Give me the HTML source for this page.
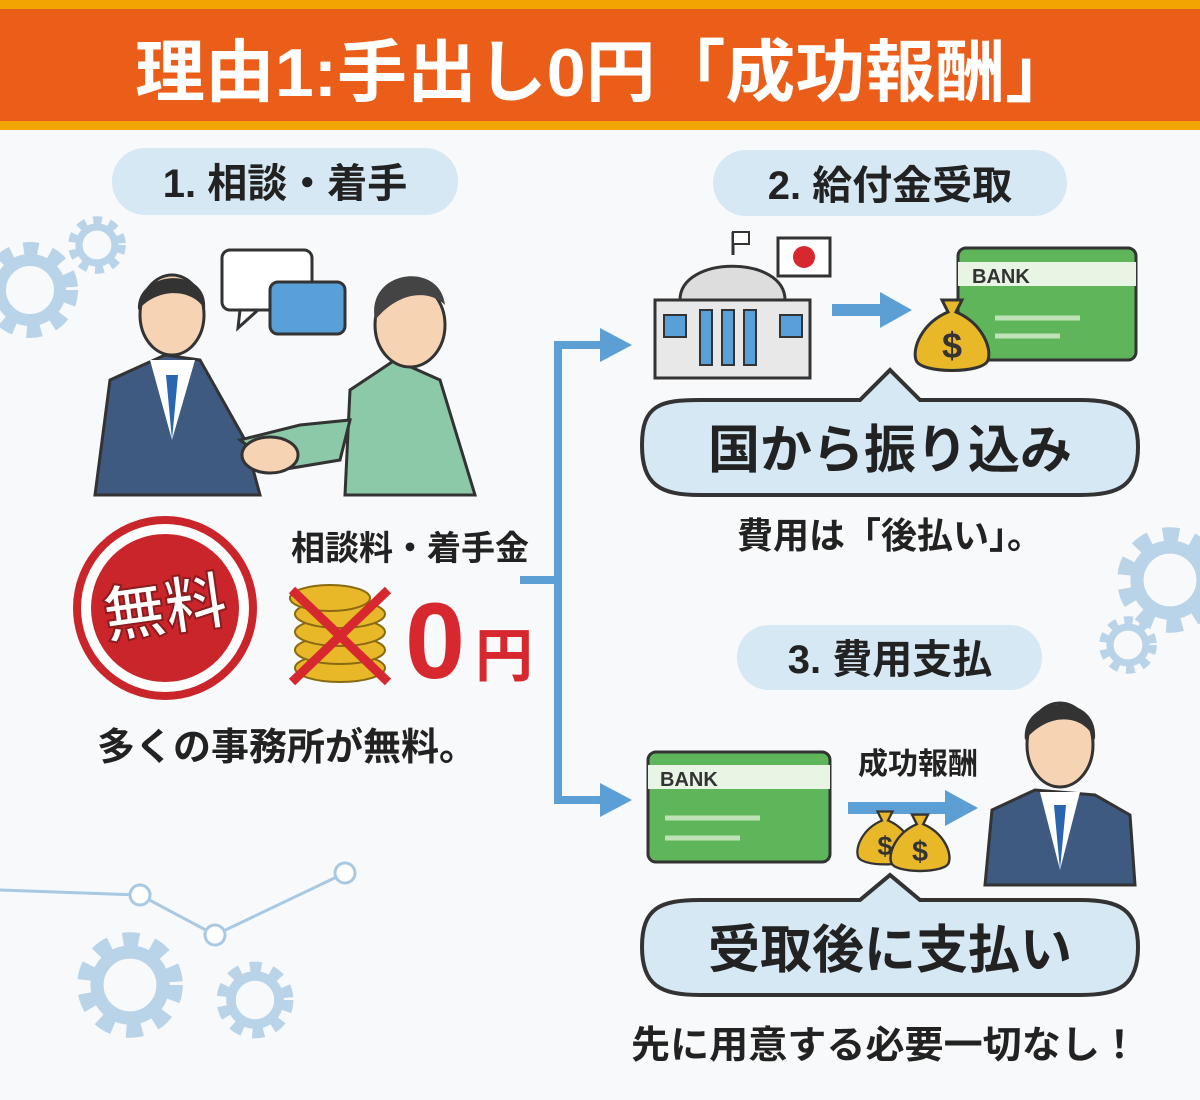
<!DOCTYPE html>
<html><head><meta charset="utf-8"><style>
body{margin:0;width:1200px;height:1100px;background:#f8f9fa;overflow:hidden;font-family:"Liberation Sans","Noto Sans CJK JP",sans-serif}
svg{display:block}
text{font-family:"Liberation Sans","Noto Sans CJK JP",sans-serif;font-weight:bold}
</style></head><body>
<svg width="1200" height="1100" viewBox="0 0 1200 1100">
<defs>
<g id="gear"><circle r="40" fill="none" stroke="#b9d3e8" stroke-width="16" stroke-dasharray="14 12"/><circle r="30" fill="none" stroke="#b9d3e8" stroke-width="12"/></g>
<g id="bag"><path d="M-10,-38 L10,-38 L4,-26 C30,-15 40,10 36,22 C32,36 -32,36 -36,22 C-40,10 -30,-15 -4,-26Z" fill="#e8b828" stroke="#333" stroke-width="3"/><text x="0" y="20" font-size="36" text-anchor="middle" fill="#333">$</text></g>
</defs>
<rect x="0" y="0" width="1200" height="130" fill="#f2a400"/>
<rect x="0" y="9" width="1200" height="112" fill="#ea5e1a"/>
<text x="605" y="96" font-size="68" fill="#fff" text-anchor="middle" textLength="940" lengthAdjust="spacingAndGlyphs">理由1:手出し0円「成功報酬」</text>

<use href="#gear" transform="translate(30,290)"/>
<use href="#gear" transform="translate(97,245) scale(0.6)"/>
<use href="#gear" transform="translate(130,985) scale(1.1)"/>
<use href="#gear" transform="translate(255,1000) scale(0.8)"/>
<use href="#gear" transform="translate(1170,580) scale(1.1)"/>
<use href="#gear" transform="translate(1128,645) scale(0.6)"/>
<polyline points="0,890 140,895 215,935 345,873" fill="none" stroke="#a9c9e3" stroke-width="3"/>
<circle cx="140" cy="895" r="10" fill="#fff" stroke="#a9c9e3" stroke-width="3"/>
<circle cx="215" cy="935" r="10" fill="#fff" stroke="#a9c9e3" stroke-width="3"/>
<circle cx="345" cy="873" r="10" fill="#fff" stroke="#a9c9e3" stroke-width="3"/>

<rect x="112" y="148" width="346" height="67" rx="33" fill="#d6e8f4"/>
<text x="285" y="197" font-size="40" fill="#222" text-anchor="middle">1. 相談・着手</text>
<rect x="713" y="150" width="354" height="66" rx="33" fill="#d6e8f4"/>
<text x="890" y="199" font-size="40" fill="#222" text-anchor="middle">2. 給付金受取</text>
<rect x="737" y="625" width="305" height="65" rx="32" fill="#d6e8f4"/>
<text x="890" y="673" font-size="40" fill="#222" text-anchor="middle">3. 費用支払</text>

<rect x="222" y="250" width="90" height="60" rx="8" fill="#fff" stroke="#333" stroke-width="3"/>
<path d="M240,310 L238,328 L258,310Z" fill="#fff" stroke="#333" stroke-width="3"/>
<rect x="270" y="282" width="75" height="52" rx="8" fill="#5aa0d8" stroke="#333" stroke-width="3"/>
<path d="M95,495 L110,380 L165,355 L200,360 L245,440 L260,495Z" fill="#3e5a80" stroke="#333" stroke-width="3"/>
<path d="M150,360 L172,440 L195,360Z" fill="#fff"/><path d="M166,375 L172,440 L178,375Z" fill="#2a66b0"/>
<ellipse cx="172" cy="315" rx="32" ry="40" fill="#f6d3b3" stroke="#333" stroke-width="3"/>
<path d="M138,310 C135,270 210,265 205,310 C195,290 160,285 138,310Z" fill="#333"/>
<path d="M345,495 L350,390 L395,360 L440,380 L475,495Z" fill="#8cc9a8" stroke="#333" stroke-width="3"/>
<path d="M240,440 L300,425 L350,420 L340,460 L280,470Z" fill="#8cc9a8" stroke="#333" stroke-width="3"/>
<ellipse cx="270" cy="455" rx="28" ry="18" fill="#f6d3b3" stroke="#333" stroke-width="3"/>
<ellipse cx="410" cy="325" rx="35" ry="42" fill="#f6d3b3" stroke="#333" stroke-width="3"/>
<path d="M375,320 C365,270 440,260 445,305 C430,290 400,290 375,320Z" fill="#444"/>

<circle cx="165" cy="608" r="88" fill="#fff" stroke="#c9252b" stroke-width="8"/>
<circle cx="165" cy="608" r="74" fill="#c9252b"/>
<text x="165" y="630" font-size="62" fill="#fff" text-anchor="middle" transform="rotate(-8 165 608)" stroke="#8d1b1e" stroke-width="2">無料</text>
<text x="410" y="560" font-size="34" fill="#222" text-anchor="middle">相談料・着手金</text>
<g fill="#e8b828" stroke="#8a6a10" stroke-width="2">
<ellipse cx="340" cy="668" rx="45" ry="14"/><ellipse cx="340" cy="650" rx="45" ry="14"/><ellipse cx="340" cy="632" rx="45" ry="14"/><ellipse cx="340" cy="614" rx="45" ry="14"/><ellipse cx="330" cy="598" rx="40" ry="13"/></g>
<path d="M292,590 L388,682 M388,590 L292,682" stroke="#d6282e" stroke-width="9"/>
<text x="405" y="678" font-size="108" fill="#d6282e">0</text>
<text x="475" y="676" font-size="58" fill="#d6282e">円</text>
<text x="287" y="760" font-size="38" fill="#222" text-anchor="middle">多くの事務所が無料。</text>

<g stroke="#5b9fd4" stroke-width="8" fill="none"><path d="M520,580 L558,580 M558,345 L558,800 M554,345 L605,345 M554,800 L605,800"/></g>
<path d="M600,328 L632,345 L600,362Z M600,783 L632,800 L600,817Z" fill="#5b9fd4"/>

<path d="M655,378 L810,378 L810,300 L655,300Z" fill="#e8e8e8" stroke="#333" stroke-width="3"/>
<path d="M680,300 C680,255 785,255 785,300Z" fill="#ddd" stroke="#333" stroke-width="3"/>
<g fill="#5aa0d8" stroke="#333" stroke-width="2"><rect x="700" y="310" width="12" height="55"/><rect x="722" y="310" width="12" height="55"/><rect x="744" y="310" width="12" height="55"/><rect x="664" y="315" width="22" height="22"/><rect x="780" y="315" width="22" height="22"/></g>
<line x1="733" y1="255" x2="733" y2="232" stroke="#333" stroke-width="3"/><rect x="733" y="232" width="16" height="12" fill="#fff" stroke="#333" stroke-width="2"/>
<rect x="778" y="238" width="52" height="38" fill="#fff" stroke="#333" stroke-width="3"/><circle cx="804" cy="257" r="11" fill="#d6282e"/>
<path d="M832,310 L885,310" stroke="#5b9fd4" stroke-width="12"/><path d="M880,292 L912,310 L880,328Z" fill="#5b9fd4"/>
<rect x="958" y="248" width="178" height="112" rx="8" fill="#5fb55a" stroke="#333" stroke-width="3"/>
<rect x="958" y="262" width="178" height="24" fill="#e9f5e4"/>
<text x="972" y="283" font-size="20" fill="#333">BANK</text>
<line x1="995" y1="318" x2="1080" y2="318" stroke="#bfe2b8" stroke-width="5"/><line x1="995" y1="336" x2="1060" y2="336" stroke="#bfe2b8" stroke-width="5"/>
<use href="#bag" transform="translate(952,338)"/>
<path d="M642,445 C642,405 660,400 700,400 L860,400 L890,370 L920,400 L1080,400 C1120,400 1138,410 1138,447 C1138,485 1120,495 1080,495 L700,495 C660,495 642,485 642,445Z" fill="#d6e8f4" stroke="#333" stroke-width="4"/>
<text x="890" y="468" font-size="52" fill="#222" text-anchor="middle">国から振り込み</text>
<text x="890" y="548" font-size="36" fill="#222" text-anchor="middle">費用は「後払い」。</text>

<rect x="648" y="752" width="182" height="110" rx="8" fill="#5fb55a" stroke="#333" stroke-width="3"/>
<rect x="648" y="765" width="182" height="24" fill="#e9f5e4"/>
<text x="660" y="786" font-size="20" fill="#333">BANK</text>
<line x1="665" y1="818" x2="760" y2="818" stroke="#bfe2b8" stroke-width="5"/><line x1="665" y1="838" x2="740" y2="838" stroke="#bfe2b8" stroke-width="5"/>
<text x="918" y="774" font-size="30" fill="#222" text-anchor="middle">成功報酬</text>
<path d="M848,808 L950,808" stroke="#5b9fd4" stroke-width="12"/><path d="M945,790 L978,808 L945,826Z" fill="#5b9fd4"/>
<use href="#bag" transform="translate(885,840) scale(0.75)"/><use href="#bag" transform="translate(920,845) scale(0.8)"/>
<path d="M985,885 L992,810 L1035,790 L1095,795 L1130,815 L1135,885Z" fill="#3e5a80" stroke="#333" stroke-width="3"/>
<path d="M1040,792 L1060,870 L1080,792Z" fill="#fff"/><path d="M1054,805 L1060,870 L1066,805Z" fill="#2a66b0"/>
<ellipse cx="1060" cy="745" rx="33" ry="42" fill="#f6d3b3" stroke="#333" stroke-width="3"/>
<path d="M1025,740 C1020,695 1100,690 1095,740 C1085,715 1050,710 1025,740Z" fill="#333"/>
<path d="M642,947 C642,908 660,900 700,900 L860,900 L890,875 L920,900 L1080,900 C1120,900 1138,910 1138,947 C1138,985 1120,995 1080,995 L700,995 C660,995 642,985 642,947Z" fill="#d6e8f4" stroke="#333" stroke-width="4"/>
<text x="890" y="968" font-size="52" fill="#222" text-anchor="middle">受取後に支払い</text>
<text x="885" y="1058" font-size="38" fill="#222" text-anchor="middle" textLength="508" lengthAdjust="spacingAndGlyphs">先に用意する必要一切なし！</text>
</svg>
</body></html>
